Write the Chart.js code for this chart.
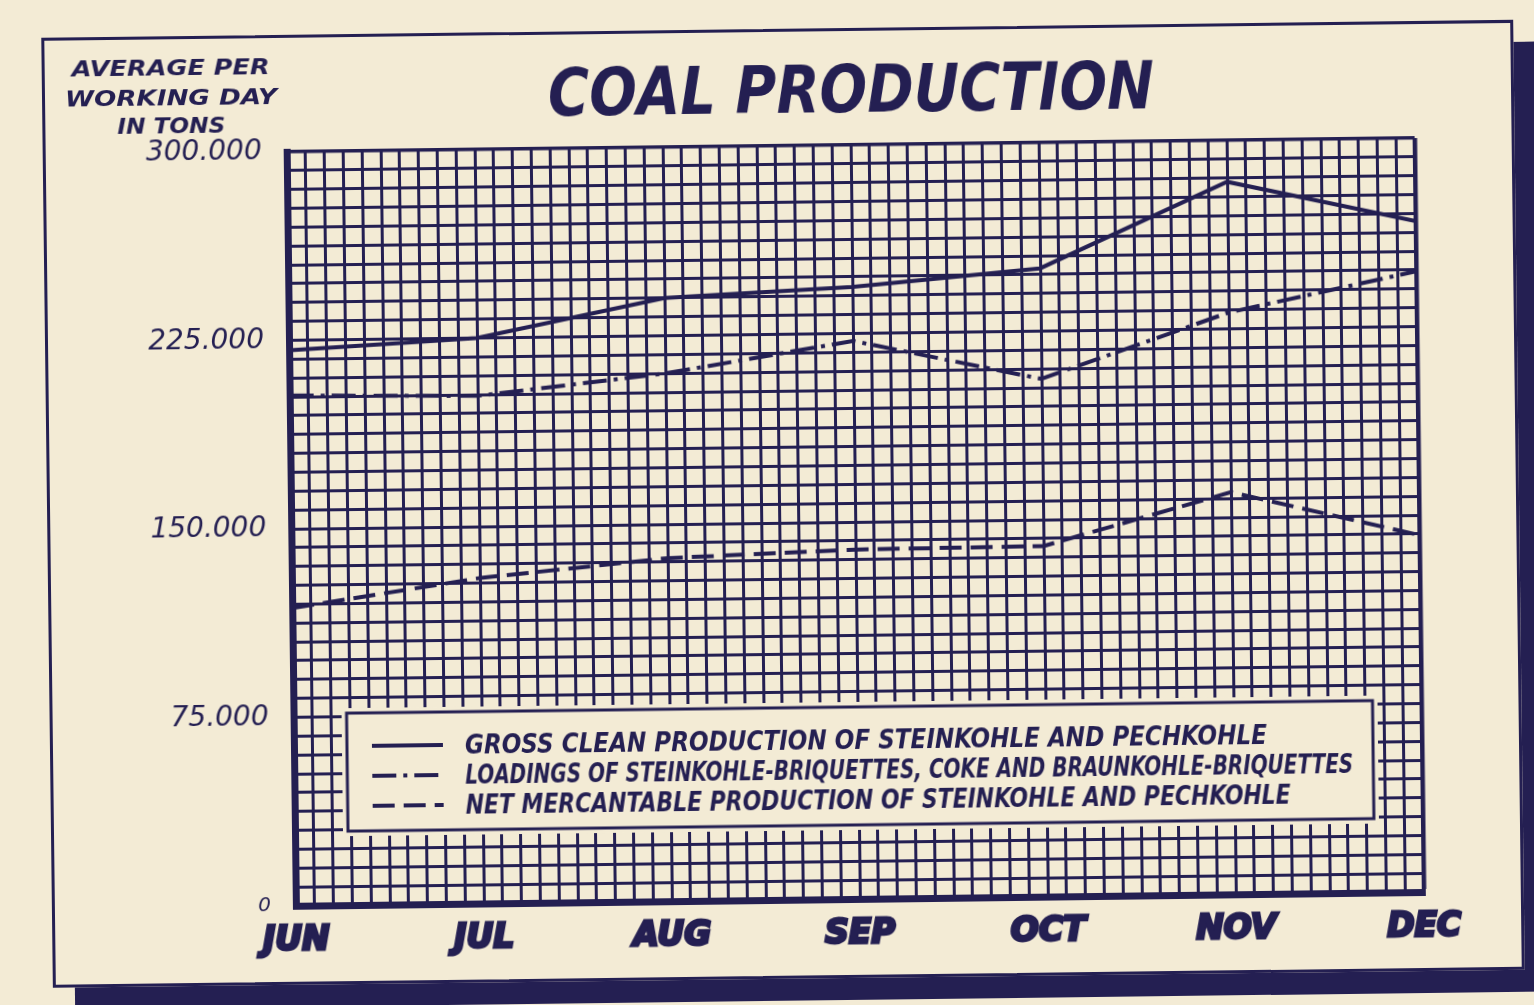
<!DOCTYPE html>
<html>
<head>
<meta charset="utf-8">
<title>Coal Production</title>
<script src="https://cdn.jsdelivr.net/npm/chart.js@4.4.1/dist/chart.umd.min.js"></script>
<style>
  html, body { margin: 0; padding: 0; background: #f3ebd5; overflow: hidden; }
  #sheet { position: absolute; left: 0; top: 0; width: 1534px; height: 1005px;
           transform: rotate(-0.7deg); transform-origin: 767px 502px; }
  #frame { position: absolute; left: 47px; top: 29px; width: 1472px; height: 950px; box-sizing: border-box;
           border: 3px solid #241f52; background: #f3ebd5; box-shadow: 22px 22px 0 0 #241f52; }
  #chart { position: absolute; left: 0; top: 0; }
</style>
</head>
<body>
<div id="sheet">
  <div id="frame"></div>
  <canvas id="chart" width="1534" height="1005"></canvas>
</div>
<script>
// values (tons per working day)
const months = ['JUN', 'JUL', 'AUG', 'SEP', 'OCT', 'NOV', 'DEC']
const grossClean = [221000, 225000, 240000, 243500, 250000, 283500, 267000]
const loadings = [203000, 202000, 210000, 222000, 206000, 231500, 247000]
const netMercantable = [118500, 129500, 136500, 139000, 139500, 160000, 142000]
const yLabels = [0, 75000, 150000, 225000, 300000]
const seriesNames = [
    'GROSS CLEAN PRODUCTION OF STEINKOHLE AND PECHKOHLE',
    'LOADINGS OF STEINKOHLE-BRIQUETTES, COKE AND BRAUNKOHLE-BRIQUETTES',
    'NET MERCANTABLE PRODUCTION OF STEINKOHLE AND PECHKOHLE'
]
const chartTitle = 'COAL PRODUCTION'
const yTitle = ['AVERAGE PER', 'WORKING DAY', 'IN TONS']

const ink = '#241f52'
const paper = '#f3ebd5'
const hand = '"DejaVu Sans Condensed", "DejaVu Sans", sans-serif'

function series(values){
    return values.map((v, i) => ({x: i, y: v}))
}

// squeeze / stretch a text so it covers the width of the hand lettering
function fitText(ctx, text, x, y, width, align){
    let natural = ctx.measureText(text).width
    ctx.save()
    ctx.translate(x, y)
    ctx.scale(width / natural, 1)
    ctx.textAlign = align
    ctx.fillText(text, 0, 0)
    ctx.restore()
}

const lettering = {
    id: 'lettering',
    afterDraw(chart){
        let ctx = chart.ctx
        let ca = chart.chartArea
        ctx.save()
        ctx.fillStyle = ink
        ctx.textBaseline = 'alphabetic'

        ctx.font = 'italic bold 65px "DejaVu Sans", sans-serif'
        fitText(ctx, chartTitle, 856, 113, 606, 'center')

        ctx.font = 'italic bold 21px "DejaVu Sans", sans-serif'
        let yw = [198, 212, 108]
        let yb = [68, 98, 126]
        yTitle.forEach((t, i) => fitText(ctx, t, 176, yb[i], yw[i], 'center'))

        // legend box sitting on the grid
        let bx = ca.left + 53, by = ca.top + 562, bw = 1026, bh = 118
        ctx.fillStyle = paper
        ctx.fillRect(bx - 5, by - 5, bw + 10, bh + 10)
        ctx.strokeStyle = ink
        ctx.lineWidth = 3
        ctx.strokeRect(bx, by, bw, bh)

        let tw = [802, 888, 825]
        ctx.font = 'italic bold 26px ' + hand
        chart.data.datasets.forEach((ds, i) => {
            let ly = by + 33 + i * 30
            ctx.beginPath()
            ctx.setLineDash(ds.borderDash)
            ctx.lineWidth = 4
            ctx.moveTo(ca.left + 78, ly)
            ctx.lineTo(ca.left + 149, ly)
            ctx.stroke()
            ctx.setLineDash([])
            ctx.fillStyle = ink
            fitText(ctx, ds.label, ca.left + 171, ly + 9, tw[i], 'left')
        })
        ctx.restore()
    }
}

let edge = (max, thin, thick) => c => (c.tick && c.tick.value === max) ? thick : thin

new Chart(document.getElementById('chart'), {
    type: 'line',
    data: {
        datasets: [
            {label: seriesNames[0], data: series(grossClean), borderColor: ink, borderWidth: 4, borderDash: []},
            {label: seriesNames[1], data: series(loadings), borderColor: ink, borderWidth: 4, borderDash: [24, 7, 4, 7]},
            {label: seriesNames[2], data: series(netMercantable), borderColor: ink, borderWidth: 4, borderDash: [22, 9]}
        ]
    },
    options: {
        responsive: false,
        animation: false,
        layout: {padding: {left: 0, top: 146, right: 115, bottom: 35}},
        elements: {point: {radius: 0}, line: {tension: 0}},
        plugins: {legend: {display: false}, tooltip: {enabled: false}},
        scales: {
            x: {
                type: 'linear', min: 0, max: months.length - 1,
                grid: {color: ink, lineWidth: edge(months.length - 1, 3, 4.5), drawTicks: false},
                border: {color: ink, width: 7},
                ticks: {
                    stepSize: 0.1, maxTicksLimit: 100, autoSkip: false, maxRotation: 0, padding: 16,
                    color: ink, textStrokeColor: ink, textStrokeWidth: 3,
                    font: {family: '"DejaVu Sans", sans-serif', size: 33, weight: 'bold', style: 'italic'},
                    callback: v => Number.isInteger(v) ? months[v] : ''
                },
                afterFit: s => { s.height = 70 }
            },
            y: {
                min: 0, max: 300000,
                grid: {color: ink, lineWidth: edge(300000, 3, 3.5), drawTicks: false},
                border: {color: ink, width: 7},
                ticks: {
                    stepSize: 7500, maxTicksLimit: 100, autoSkip: false, padding: 25, color: ink,
                    font: c => ({family: '"DejaVu Sans", sans-serif', style: 'italic',
                                 size: (c.tick && c.tick.value === 0) ? 20 : 28}),
                    callback: v => yLabels.includes(v) ? (v === 0 ? '0' : (v / 1000) + '.000') : ''
                },
                afterFit: s => { s.width = 291 }
            }
        }
    },
    plugins: [lettering]
})
</script>
</body>
</html>
